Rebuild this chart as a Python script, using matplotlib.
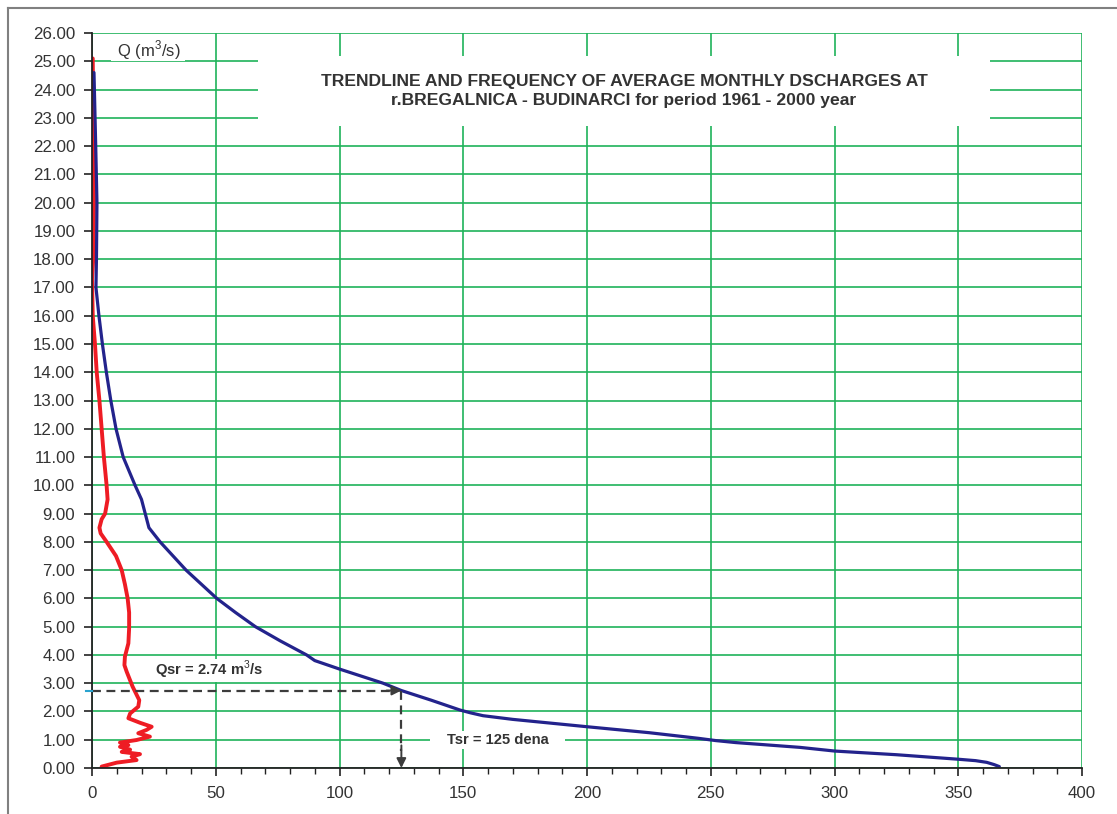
import matplotlib
matplotlib.use("Agg")
import matplotlib.pyplot as plt
from matplotlib.patches import Rectangle
from matplotlib.lines import Line2D

# ---- data ----
# Duration curve (blue): days vs discharge Q (m3/s)
dur_days = [0.8, 1.5, 2.0, 1.8, 1.6, 2.8, 4.2, 5.8, 7.6, 9.7, 12.6, 17.4, 20.0, 21.5,
            23.0, 27.5, 38.0, 50.4, 58.0, 66.0, 76.0, 86.7, 90.0, 100.0, 117.6, 125.0,
            137.0, 148.7, 153.0, 158.0, 170.0, 200.0, 225.0, 245.0, 252.0, 260.0,
            286.0, 300.0, 325.0, 350.0, 357.0, 361.5, 364.5, 366.6]
dur_q = [24.6, 22.0, 20.0, 18.0, 17.0, 16.0, 15.0, 14.0, 13.0, 12.0, 11.0, 10.0, 9.5, 9.0,
         8.5, 8.0, 7.0, 6.0, 5.5, 5.0, 4.5, 4.0, 3.8, 3.5, 3.0, 2.74,
         2.4, 2.05, 1.95, 1.85, 1.72, 1.46, 1.25, 1.05, 0.97, 0.9,
         0.73, 0.6, 0.47, 0.31, 0.26, 0.2, 0.12, 0.05]

# Frequency curve (red): frequency vs discharge Q (m3/s)
freq_days = [0.3, 0.8, 0.5, 0.0, 0.3, 1.2, 1.9, 3.0, 3.9, 4.8, 5.9, 6.3, 5.3, 3.9, 3.0,
             3.5, 5.9, 9.7, 12.0, 13.3, 14.4, 15.0, 15.0, 14.7, 13.3, 13.1, 14.0, 16.4,
             19.1, 18.7, 15.4, 14.7, 19.4, 24.1, 22.1, 18.7, 23.4, 18.0, 11.3, 14.7,
             11.3, 15.4, 12.0, 19.4, 16.0, 18.0, 10.0, 3.9]
freq_q = [25.1, 20.0, 18.0, 17.3, 16.0, 15.0, 14.0, 13.0, 12.0, 11.0, 10.0, 9.5, 9.0, 8.8,
          8.5, 8.3, 8.0, 7.5, 7.0, 6.5, 6.0, 5.5, 4.94, 4.41, 3.94, 3.64, 3.41, 2.88,
          2.4, 2.17, 1.93, 1.76, 1.6, 1.46, 1.35, 1.23, 1.11, 0.99, 0.9, 0.81,
          0.75, 0.65, 0.57, 0.49, 0.4, 0.28, 0.19, 0.05]

q_mean = 2.74
t_mean = 125

x_ticks = [0, 50, 100, 150, 200, 250, 300, 350, 400]
y_ticks = list(range(0, 27))

title_text = ("TRENDLINE AND FREQUENCY OF AVERAGE MONTHLY DSCHARGES AT\n"
              "r.BREGALNICA - BUDINARCI for period 1961 - 2000 year")
ylabel_text = r"Q (m$^3$/s)"
qsr_text = r"Qsr = 2.74 m$^3$/s"
tsr_text = "Tsr = 125 dena"

# ---- style ----
plt.rcParams['font.family'] = ['Liberation Sans', 'DejaVu Sans']
plt.rcParams['mathtext.fontset'] = 'custom'
plt.rcParams['mathtext.rm'] = 'Liberation Sans'
plt.rcParams['mathtext.bf'] = 'Liberation Sans:bold'

W, H = 1117, 814
fig = plt.figure(figsize=(W / 100, H / 100), dpi=100)
fig.patch.set_facecolor('white')

L, R, B, T = 92, 1082, 768, 33
ax = fig.add_axes([L / W, 1 - B / H, (R - L) / W, (B - T) / H])

grid_col = '#1fb35a'
txt_col = '#333333'

ax.set_xlim(0, 400)
ax.set_ylim(0, 26)
ax.set_xticks(x_ticks)
ax.set_xticks(range(0, 401, 10), minor=True)
ax.set_yticks(y_ticks)
ax.set_yticklabels([f"{v:.2f}" for v in y_ticks])
ax.tick_params(axis='both', which='major', direction='out', length=6, width=1.2,
               color='#222222', labelsize=12.2, labelcolor=txt_col)
ax.tick_params(axis='x', which='major', pad=7)
ax.tick_params(axis='y', which='major', pad=6)
ax.tick_params(axis='x', which='minor', direction='out', length=4, width=1.0, color='#222222')
ax.grid(True, which='major', color=grid_col, lw=1.2, zorder=0)
ax.set_axisbelow(True)
for s in ['top', 'right']:
    ax.spines[s].set_visible(False)
for s in ['left', 'bottom']:
    ax.spines[s].set_color('#222222')
    ax.spines[s].set_linewidth(1.3)
    ax.spines[s].set_zorder(5)

# white label boxes that interrupt the grid
def white_box(x0, x1, y0, y1):
    ax.add_patch(Rectangle(((x0 - L) / (R - L), (B - y1) / (B - T)),
                           (x1 - x0) / (R - L), (y1 - y0) / (B - T),
                           transform=ax.transAxes, facecolor='white',
                           edgecolor='none', zorder=1))

white_box(258, 990, 56, 126)
white_box(111, 185, 40, 61)
white_box(132, 283, 659, 682)
white_box(430, 565, 731, 749)

# curves
ax.plot(freq_days, freq_q, color='#ee1c24', lw=2.8, zorder=3,
        solid_joinstyle='round', solid_capstyle='round')
ax.plot(dur_days, dur_q, color='#23238c', lw=2.3, zorder=4,
        solid_joinstyle='round', solid_capstyle='round')

# mean discharge / mean duration dashed arrows
arrow_col = '#3c3c3c'
ax.plot([0, t_mean - 3], [q_mean, q_mean], color=arrow_col, lw=1.6,
        ls=(0, (4, 2.5)), zorder=4)
ax.annotate('', xy=(t_mean, q_mean), xytext=(t_mean - 6, q_mean),
            arrowprops=dict(arrowstyle='-|>', color=arrow_col, lw=1.4,
                            mutation_scale=14, shrinkA=0, shrinkB=0), zorder=4)
ax.plot([t_mean, t_mean], [q_mean, 0.6], color=arrow_col, lw=1.6,
        ls=(0, (4, 2.5)), zorder=4)
ax.annotate('', xy=(t_mean, 0.0), xytext=(t_mean, 0.8),
            arrowprops=dict(arrowstyle='-|>', color=arrow_col, lw=1.4,
                            mutation_scale=14, shrinkA=0, shrinkB=0), zorder=4)
ax.plot([-2.4, 0], [q_mean, q_mean], color='#2aa3cf', lw=1.5, clip_on=False, zorder=6)

# texts
ax.text((624 - L) / (R - L), (B - 91) / (B - T), title_text, transform=ax.transAxes,
        ha='center', va='center', fontsize=12.6, fontweight='bold', color=txt_col,
        linespacing=1.35, zorder=6)
ax.text((149 - L) / (R - L), (B - 50) / (B - T), ylabel_text, transform=ax.transAxes,
        ha='center', va='center', fontsize=12, color=txt_col, zorder=6)
ax.text((209 - L) / (R - L), (B - 670) / (B - T), qsr_text, transform=ax.transAxes,
        ha='center', va='center', fontsize=10.6, fontweight='bold', color=txt_col, zorder=6)
ax.text((498 - L) / (R - L), (B - 740) / (B - T), tsr_text, transform=ax.transAxes,
        ha='center', va='center', fontsize=10.6, fontweight='bold', color=txt_col, zorder=6)

# outer frame (top and left edges)
fig.add_artist(Line2D([8 / W, 1.0], [1 - 8 / H, 1 - 8 / H], transform=fig.transFigure,
                      color='#808080', lw=1.5))
fig.add_artist(Line2D([8 / W, 8 / W], [0.0, 1 - 8 / H], transform=fig.transFigure,
                      color='#808080', lw=1.5))

fig.savefig('out.png', dpi=100, facecolor='white')
